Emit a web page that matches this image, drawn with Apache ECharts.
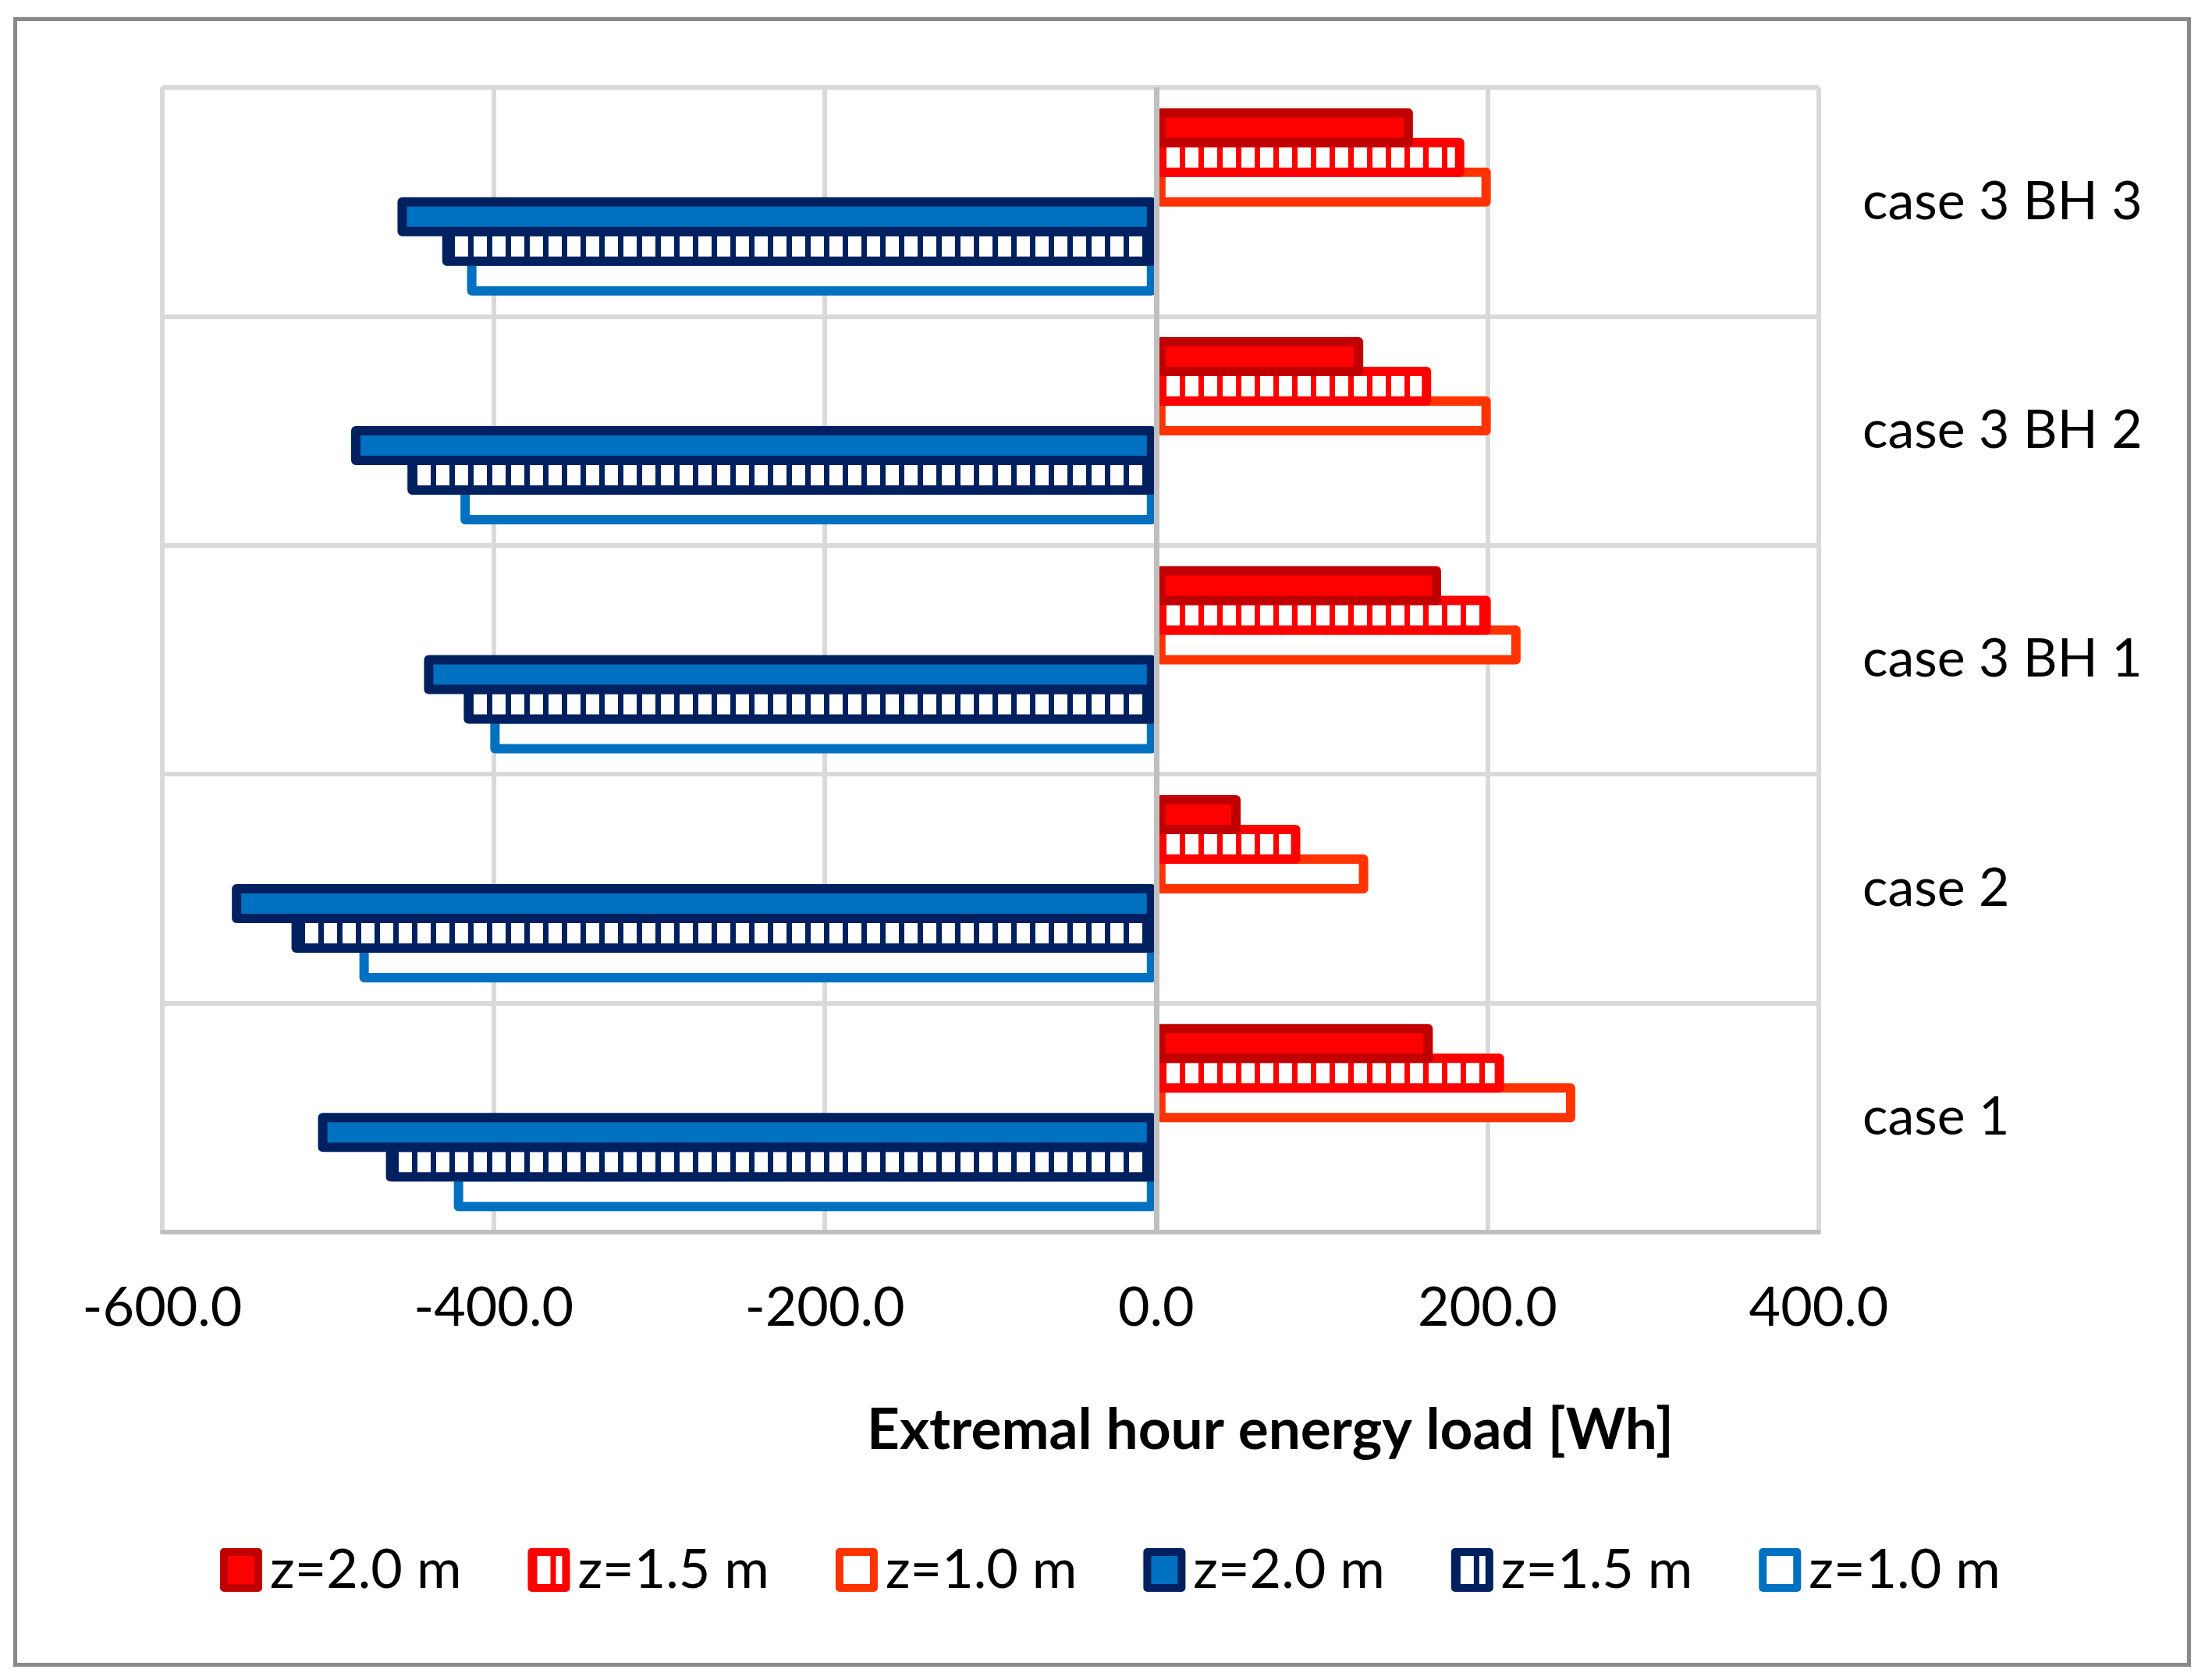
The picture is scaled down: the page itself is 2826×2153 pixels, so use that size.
<!DOCTYPE html>
<html>
<head>
<meta charset="utf-8">
<script src="https://cdn.jsdelivr.net/npm/echarts@6/dist/echarts.min.js"></script>
<style>
  html, body { margin: 0; padding: 0; background: #fff; }
  #chart { position: absolute; left: 0; top: 0; width: 2826px; height: 2153px; }
  #frame { position: absolute; left: 17px; top: 22px; width: 2781px; height: 2104px;
           border: 5px solid #898989; pointer-events: none; }
</style>
</head>
<body>
<div id="chart"></div>
<div id="frame"></div>
<script>
// Categories listed bottom to top (ECharts category y axis starts at the bottom)
const categories = ['case 1', 'case 2', 'case 3 BH 1', 'case 3 BH 2', 'case 3 BH 3'];
const legendLabels = ['z=2.0 m', 'z=1.5 m', 'z=1.0 m', 'z=2.0 m', 'z=1.5 m', 'z=1.0 m'];
const xTicks = { min: -600, max: 400, interval: 200 };
const axisTitle = 'Extremal hour energy load [Wh]';

// Positive (red) loads
const red20 = [167, 51, 172, 125, 155];
const red15 = [210, 87, 202, 166, 186];
const red10 = [253, 128, 220, 202, 202];
// Negative (blue) loads
const blue20 = [-506, -558, -442, -486, -458];
const blue15 = [-465, -522, -418, -452, -431];
const blue10 = [-424, -481, -402, -420, -416];

const FONT = 'Lato';

function stripePattern(color) {
  const c = document.createElement('canvas');
  c.width = 24; c.height = 24;
  const g = c.getContext('2d');
  g.fillStyle = '#ffffff';
  g.fillRect(0, 0, 24, 24);
  g.fillStyle = color;
  g.fillRect(0, 0, 7, 24);
  return { image: c, repeat: 'repeat' };
}

const styles = [
  { fill: '#FF0000', border: '#C00000' },
  { fill: stripePattern('#FF0000'), border: '#FF0000' },
  { fill: '#FFFFFF', border: '#FF3300' },
  { fill: '#0070C0', border: '#002060' },
  { fill: stripePattern('#002060'), border: '#002060' },
  { fill: '#FFFFFF', border: '#0070C0' }
];
const values = [red20, red15, red10, blue20, blue15, blue10];
const keys = ['h20', 'h15', 'h10', 'c20', 'c15', 'c10'];

const series = values.map((v, i) => ({
  name: keys[i] + '|' + legendLabels[i],
  type: 'bar',
  data: v,
  barWidth: 50,
  barGap: '-24%',
  z: 10 - i,
  itemStyle: {
    color: styles[i].fill,
    borderColor: styles[i].border,
    borderWidth: 12,
    borderJoin: 'round'
  },
  emphasis: { disabled: true }
}));
series[5].markLine = {
  silent: true,
  symbol: 'none',
  z: 30,
  label: { show: false },
  lineStyle: { color: '#BFBFBF', width: 7, type: 'solid' },
  data: [{ xAxis: 0 }]
};

const chart = echarts.init(document.getElementById('chart'), null, { renderer: 'canvas' });
chart.setOption({
  animation: false,
  backgroundColor: 'transparent',
  textStyle: { fontFamily: FONT },
  grid: { left: 208, right: 495, top: 112, bottom: 574, containLabel: false },
  title: {
    text: axisTitle,
    left: 1106,
    top: 1792,
    textStyle: { fontFamily: FONT, fontWeight: 'bold', fontSize: 73, color: '#000' }
  },
  legend: {
    data: series.map(s => s.name),
    formatter: n => n.split('|')[1],
    icon: 'rect',
    left: 277,
    top: 1972,
    itemWidth: 44,
    itemHeight: 46,
    itemGap: 85,
    itemStyle: { borderWidth: 10 },
    textStyle: { fontFamily: FONT, fontSize: 70, color: '#000', width: 250, padding: [0, 0, 0, 10] },
    selectedMode: false
  },
  xAxis: {
    type: 'value',
    min: xTicks.min,
    max: xTicks.max,
    interval: xTicks.interval,
    axisLine: { show: true, lineStyle: { color: '#BFBFBF', width: 6 } },
    axisTick: { show: false },
    axisLabel: {
      formatter: v => v.toFixed(1),
      fontFamily: FONT, fontSize: 70, color: '#000', margin: 62
    },
    splitLine: { show: true, lineStyle: { color: '#D9D9D9', width: 6 } }
  },
  yAxis: {
    type: 'category',
    data: categories,
    position: 'right',
    axisLine: { show: false },
    axisTick: { show: false },
    axisLabel: { fontFamily: FONT, fontSize: 68, color: '#000', margin: 56, align: 'left' },
    splitLine: { show: true, lineStyle: { color: '#D9D9D9', width: 6 } }
  },
  series: series
});
</script>
</body>
</html>
